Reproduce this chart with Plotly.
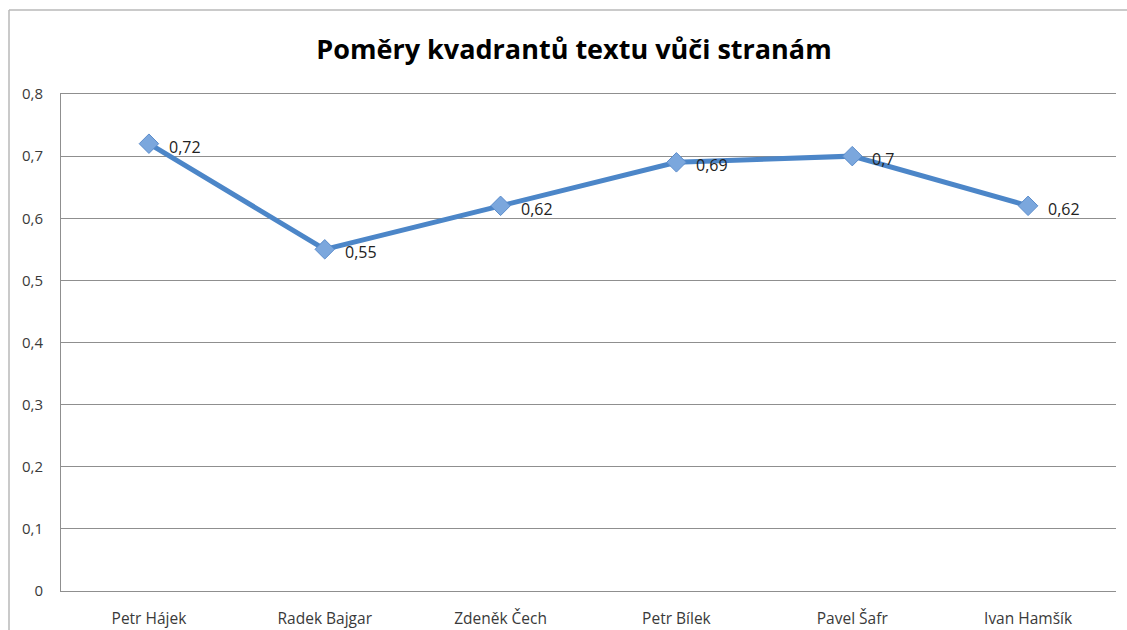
import plotly.graph_objects as go

categories = ["Petr Hájek", "Radek Bajgar", "Zdeněk Čech", "Petr Bílek", "Pavel Šafr", "Ivan Hamšík"]
values = [0.72, 0.55, 0.62, 0.69, 0.70, 0.62]
y_ticks = [0, 0.1, 0.2, 0.3, 0.4, 0.5, 0.6, 0.7, 0.8]
title_text = "Poměry kvadrantů textu vůči stranám"

labels = [("%g" % v).replace(".", ",") for v in values]
tick_labels = [("%g" % v).replace(".", ",") for v in y_ticks]

FONT = "'Open Sans', Lato, sans-serif"
W, H = 1127, 630
# plot area in page pixels: x 61..1116, y 94..591
L, T = 61, 94
R, B = W - 1116, H - 591
pw, ph = W - L - R, H - T - B

fig = go.Figure()
fig.add_trace(go.Scatter(
    x=categories, y=values, mode="lines+markers",
    line=dict(color="#4C86C8", width=5),
    marker=dict(symbol="diamond", size=15, color="#7BA7DD",
                line=dict(color="#5B8CCB", width=1)),
    cliponaxis=False, showlegend=False, hoverinfo="skip",
))

# data labels, placed through the axes
for c, v, t in zip(categories, values, labels):
    fig.add_annotation(x=c, y=v, xref="x", yref="y", text=t, showarrow=False,
                       xanchor="left", yanchor="middle", xshift=18, yshift=-3,
                       font=dict(family=FONT, size=16, color="#222222"))

# chart border (left and top edges visible)
bx = (9 - L) / pw
by = 1 + (T - 10) / ph
fig.add_shape(type="line", xref="paper", yref="paper", x0=bx, x1=bx, y0=-1, y1=by,
              line=dict(color="#b8b8b8", width=1.5))
fig.add_shape(type="line", xref="paper", yref="paper", x0=bx, x1=2, y0=by, y1=by,
              line=dict(color="#b8b8b8", width=1.5))

fig.update_layout(
    width=W, height=H,
    margin=dict(l=L, r=R, t=T, b=B, autoexpand=False),
    paper_bgcolor="white", plot_bgcolor="white",
    separators=", ",
    title=dict(text="<b>" + title_text + "</b>", x=574 / W, xanchor="center",
               y=1 - 50 / H, yanchor="middle",
               font=dict(family=FONT, size=27, color="#000000")),
    xaxis=dict(showgrid=False, showline=True, mirror=True, linecolor="#8f8f8f", linewidth=1,
               ticks="", zeroline=False, ticklabelstandoff=13, automargin=False,
               tickfont=dict(family=FONT, size=15.5, color="#3a3a3a"),
               range=[-0.5, len(categories) - 0.5], fixedrange=True),
    yaxis=dict(range=[0, 0.8], tickvals=y_ticks, ticktext=tick_labels,
               showgrid=True, gridcolor="#8f8f8f", gridwidth=1,
               showline=True, linecolor="#8f8f8f", linewidth=1, automargin=False,
               zeroline=False, ticks="", ticklen=0, ticklabelstandoff=14,
               tickfont=dict(family=FONT, size=15, color="#3a3a3a")),
)

fig.write_html(
    "out.html",
    config={"displayModeBar": False},
    post_script="document.body.style.margin='0';document.body.style.overflow='hidden';",
)
